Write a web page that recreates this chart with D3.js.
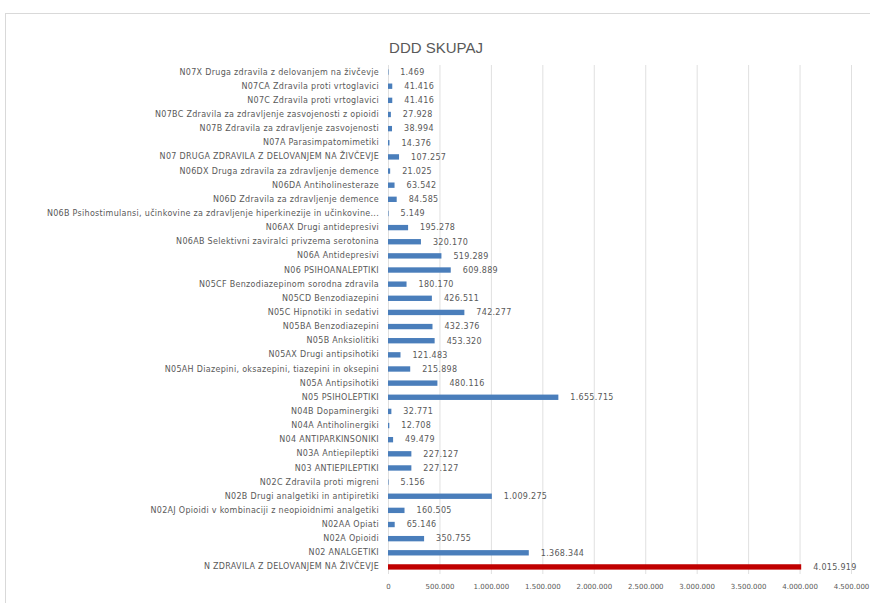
<!DOCTYPE html>
<html>
<head>
<meta charset="utf-8">
<script src="https://cdn.jsdelivr.net/npm/d3@7"></script>
<style>
  body { margin: 0; background: #fff; }
  text { font-family: "Liberation Sans", Arial, sans-serif; fill: #595959; }
  .small { font-family: "DejaVu Sans", sans-serif; font-size: 8px; letter-spacing: 0.3px; }
  .tick-x { font-family: "DejaVu Sans", sans-serif; font-size: 7px; letter-spacing: 0px; }
</style>
</head>
<body>
<svg width="870" height="603"></svg>
<script>
// categories, top to bottom as shown
const categories = [
  'N07X Druga zdravila z delovanjem na živčevje',
  'N07CA Zdravila proti vrtoglavici',
  'N07C Zdravila proti vrtoglavici',
  'N07BC Zdravila za zdravljenje zasvojenosti z opioidi',
  'N07B Zdravila za zdravljenje zasvojenosti',
  'N07A Parasimpatomimetiki',
  'N07 DRUGA ZDRAVILA Z DELOVANJEM NA ŽIVČEVJE',
  'N06DX Druga zdravila za zdravljenje demence',
  'N06DA Antiholinesteraze',
  'N06D Zdravila za zdravljenje demence',
  'N06B Psihostimulansi, učinkovine za zdravljenje hiperkinezije in učinkovine...',
  'N06AX Drugi antidepresivi',
  'N06AB Selektivni zaviralci privzema serotonina',
  'N06A Antidepresivi',
  'N06 PSIHOANALEPTIKI',
  'N05CF Benzodiazepinom sorodna zdravila',
  'N05CD Benzodiazepini',
  'N05C Hipnotiki in sedativi',
  'N05BA Benzodiazepini',
  'N05B Anksiolitiki',
  'N05AX Drugi antipsihotiki',
  'N05AH Diazepini, oksazepini, tiazepini in oksepini',
  'N05A Antipsihotiki',
  'N05 PSIHOLEPTIKI',
  'N04B Dopaminergiki',
  'N04A Antiholinergiki',
  'N04 ANTIPARKINSONIKI',
  'N03A Antiepileptiki',
  'N03 ANTIEPILEPTIKI',
  'N02C Zdravila proti migreni',
  'N02B Drugi analgetiki in antipiretiki',
  'N02AJ Opioidi v kombinaciji z neopioidnimi analgetiki',
  'N02AA Opiati',
  'N02A Opioidi',
  'N02 ANALGETIKI',
  'N ZDRAVILA Z DELOVANJEM NA ŽIVČEVJE'
];

const values = [
  1469, 41416, 41416, 27928, 38994, 14376, 107257, 21025, 63542, 84585,
  5149, 195278, 320170, 519289, 609889, 180170, 426511, 742277, 432376, 453320,
  121483, 215898, 480116, 1655715, 32771, 12708, 49479, 227127, 227127, 5156,
  1009275, 160505, 65146, 350755, 1368344, 4015919
];

const highlight = 'N ZDRAVILA Z DELOVANJEM NA ŽIVČEVJE';
const xTicks = [0, 500000, 1000000, 1500000, 2000000, 2500000, 3000000, 3500000, 4000000, 4500000];

const data = categories.map((c, i) => ({ name: c, value: values[i] }));

const fmt = d3.formatLocale({ decimal: ',', thousands: '.', grouping: [3], currency: ['', ''] }).format(',d');

const svg = d3.select('svg');

// chart area frame
svg.append('rect')
  .attr('x', 5.5).attr('y', 13.5)
  .attr('width', 880).attr('height', 600)
  .attr('fill', '#fff')
  .attr('stroke', '#d9d9d9');

svg.append('text')
  .attr('x', 436).attr('y', 53)
  .attr('text-anchor', 'middle')
  .style('font-size', '15px')
  .text('DDD SKUPAJ');

const x = d3.scaleLinear().domain([0, 4500000]).range([388, 851]);
const y = d3.scaleBand()
  .domain(categories)
  .range([65, 574])
  .paddingInner(0.62)
  .paddingOuter(0.31);

// vertical gridlines
svg.append('g')
  .selectAll('line')
  .data(xTicks)
  .enter()
  .append('line')
  .attr('x1', (d) => x(d) + 0.5)
  .attr('x2', (d) => x(d) + 0.5)
  .attr('y1', 65)
  .attr('y2', 574)
  .attr('stroke', '#e0e0e0');

// x axis tick labels
const xAxis = d3.axisBottom(x).tickValues(xTicks).tickFormat(fmt).tickSize(0).tickPadding(0);
const gx = svg.append('g').attr('transform', 'translate(0,584)').attr('font-family', null).attr('font-size', null).call(xAxis);
gx.select('.domain').remove();
gx.selectAll('text')
  .attr('class', 'tick-x')
  .attr('fill', '#595959');

// category labels
const yAxis = d3.axisLeft(y).tickSize(0).tickPadding(9);
const gy = svg.append('g').attr('transform', 'translate(388,0)').attr('font-family', null).call(yAxis);
gy.select('.domain').remove();
gy.selectAll('text')
  .attr('class', 'small')
  .attr('fill', '#595959');

// bars
svg.append('g')
  .selectAll('rect')
  .data(data)
  .enter()
  .append('rect')
  .attr('x', x(0))
  .attr('y', (d) => y(d.name))
  .attr('width', (d) => Math.max(0.5, x(d.value) - x(0)))
  .attr('height', y.bandwidth())
  .attr('fill', (d) => (d.name === highlight ? '#c00000' : '#4a7ebb'));

// value labels
svg.append('g')
  .selectAll('text')
  .data(data)
  .enter()
  .append('text')
  .attr('class', 'small')
  .attr('x', (d) => x(d.value) + 12)
  .attr('y', (d) => y(d.name) + y.bandwidth() / 2)
  .attr('dy', '0.35em')
  .text((d) => fmt(d.value));
</script>
</body>
</html>
